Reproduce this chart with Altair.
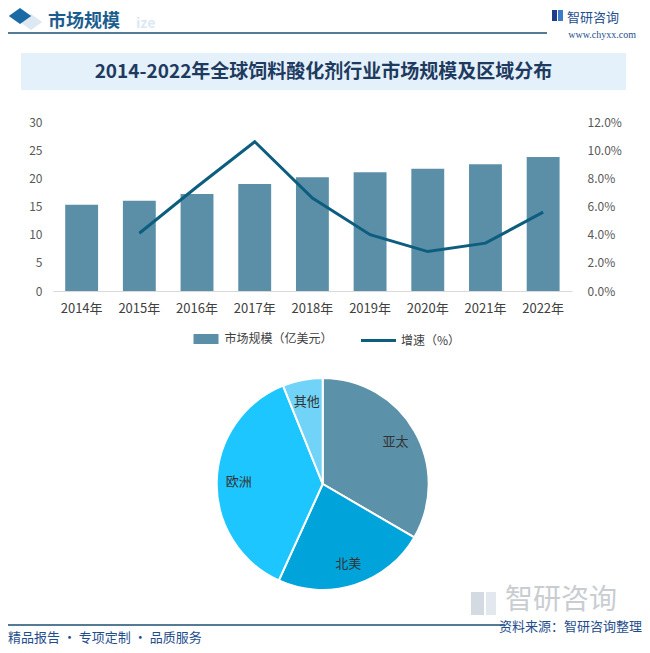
import altair as alt
import pandas as pd

# ---------------- data ----------------
years = ["2014年", "2015年", "2016年", "2017年", "2018年", "2019年", "2020年", "2021年", "2022年"]
market_size = [15.3, 16.0, 17.2, 19.0, 20.2, 21.1, 21.7, 22.5, 23.8]
growth_years = ["2015年", "2016年", "2017年", "2018年", "2019年", "2020年", "2021年", "2022年"]
growth_pct = [4.1, 7.4, 10.6, 6.6, 4.0, 2.8, 3.4, 5.6]
regions = ["亚太", "北美", "欧洲", "其他"]
region_share = [33.4, 23.4, 37.1, 6.1]
left_ticks = [0, 5, 10, 15, 20, 25, 30]
right_ticks = [0.0, 0.02, 0.04, 0.06, 0.08, 0.10, 0.12]
bar_series = "市场规模（亿美元）"
line_series = "增速（%）"

# ---------------- style ----------------
FONT = "Noto Sans CJK SC"
BAR = "#5B8FA8"
LINE = "#0D5E7E"
PIE = ["#5B91A9", "#00A4DA", "#1EC6FF", "#70D3F7"]
NAVY = "#1F4E8C"
W, H = 634, 637
OX, OY = 8, 8


def px(x):
    return x - OX


def py(y):
    return y - OY


one = pd.DataFrame({"k": [0]})


def txt(s, x, y, size, color, weight="normal", align="left", font=FONT):
    return alt.Chart(one).mark_text(
        text=s, fontSize=size, color=color, fontWeight=weight, align=align,
        baseline="middle", font=font
    ).encode(x=alt.value(px(x)), y=alt.value(py(y)))


def rect(x1, y1, x2, y2, color):
    return alt.Chart(one).mark_rect(color=color).encode(
        x=alt.value(px(x1)), x2=alt.value(px(x2)), y=alt.value(py(y1)), y2=alt.value(py(y2))
    )


def rule(x1, x2, y, color, w=1.5):
    return alt.Chart(one).mark_rule(color=color, strokeWidth=w).encode(
        x=alt.value(px(x1)), x2=alt.value(px(x2)), y=alt.value(py(y))
    )


# ---------------- decorations ----------------
deco = [
    alt.Chart(one).mark_point(shape="M-1.4,0L0,-1L1.4,0L0,1Z", size=256, filled=True,
                              color="#DCE9F3", opacity=1).encode(
        x=alt.value(px(31)), y=alt.value(py(22))),
    alt.Chart(one).mark_point(shape="M-1.4,0L0,-1L1.4,0L0,1Z", size=256, filled=True,
                              color="#1A6BA5", opacity=1).encode(
        x=alt.value(px(20)), y=alt.value(py(16))),
    txt("ize", 136, 24, 14, "#DCE9F3", weight="bold"),
    txt("市场规模", 48, 22, 18, "#1C5D8F", weight="bold"),
    rule(0, 547, 33, "#1B4F72"),
    rect(552, 10, 557, 21, "#1F3B8C"),
    rect(558, 10, 563, 21, "#3B7BC8"),
    txt("智研咨询", 567, 18, 13, NAVY),
    txt("www.chyxx.com", 636, 35, 10, NAVY, align="right", font="Liberation Serif"),
    rect(21, 53, 626, 90, "#E4F1FA"),
    txt("2014-2022年全球饲料酸化剂行业市场规模及区域分布", 323.5, 72, 19, "#1F3A5F", weight="bold", align="center"),
    rect(471, 592, 484, 615, "#D3DAE2"),
    rect(486, 592, 496, 615, "#E2E8EE"),
    txt("智研咨询", 505, 601, 28, "#C9CDD2"),
    rule(0, 505, 625, "#1B4F72"),
    txt("资料来源：智研咨询整理", 642, 627, 13, NAVY, align="right"),
    txt("精品报告 · 专项定制 · 品质服务", 8, 638, 13, NAVY),
]

# ---------------- bar + line ----------------
bar_df = pd.DataFrame({"年份": years, "市场规模": market_size, "系列": [bar_series] * len(years)})
line_df = pd.DataFrame({"年份": growth_years, "增速": [g / 100 for g in growth_pct],
                        "系列": [line_series] * len(growth_years)})

xscale = alt.Scale(domain=years, range=[px(52.8), px(572)], paddingInner=0.43, paddingOuter=0.215)
xenc = alt.X("年份:N", scale=xscale, sort=years,
             axis=alt.Axis(title=None, orient="bottom", offset=py(291) - H, labelAngle=0, ticks=False,
                           domainColor="#D9D9D9", domainWidth=1, labelPadding=11, labelFontSize=13,
                           labelColor="#404040", labelFont=FONT, grid=False))

bars = alt.Chart(bar_df).mark_bar().encode(
    x=xenc,
    y=alt.Y("市场规模:Q", scale=alt.Scale(domain=[0, 30], range=[py(291), py(122)], nice=False),
            axis=alt.Axis(title=None, orient="left", offset=-px(52), values=left_ticks, domain=False,
                          ticks=False, grid=False, labelPadding=10, labelFontSize=12,
                          labelColor="#595959", labelFont=FONT)),
    fill=alt.Fill("系列:N", scale=alt.Scale(domain=[bar_series], range=[BAR]),
                  legend=alt.Legend(orient="none", legendX=px(200), legendY=py(333), title=None,
                                    symbolType="M-2.5,-1H2.5V1H-2.5Z", symbolSize=100, labelOffset=12.5,
                                    labelFontSize=12, labelColor="#404040", labelFont=FONT, padding=0,
                                    symbolStrokeWidth=0, labelLimit=300)),
)

line = alt.Chart(line_df).mark_line(strokeWidth=3).encode(
    x=xenc,
    y=alt.Y("增速:Q", scale=alt.Scale(domain=[0, 0.12], range=[py(291), py(122)], nice=False),
            axis=alt.Axis(title=None, orient="right", offset=px(575) - W, values=right_ticks, format=".1%",
                          domain=False, ticks=False, grid=False, labelPadding=12, labelFontSize=12,
                          labelColor="#595959", labelFont=FONT)),
    stroke=alt.Stroke("系列:N", scale=alt.Scale(domain=[line_series], range=[LINE]),
                      legend=alt.Legend(orient="none", legendX=px(367), legendY=py(329), title=None,
                                        symbolType="M-1.75,0H1.75", symbolSize=400, symbolStrokeWidth=3,
                                        labelOffset=11, labelFontSize=12, labelColor="#404040",
                                        labelFont=FONT, padding=0, labelLimit=300)),
)

# ---------------- pie ----------------
pie_df = pd.DataFrame({"区域": regions, "占比": region_share, "序": [0, 1, 2, 3]})
CX, CY, R = 322.7, 484, 106
arc = alt.Chart(pie_df).mark_arc(radius=R, stroke="white", strokeWidth=2).encode(
    theta=alt.Theta("占比:Q", stack=True),
    order=alt.Order("序:Q"),
    color=alt.Color("区域:N", scale=alt.Scale(domain=regions, range=PIE), legend=None),
    x=alt.value(px(CX)), y=alt.value(py(CY)),
)
labels = alt.Chart(pie_df).mark_text(radius=84, fontSize=13, color="#333333", font=FONT).encode(
    theta=alt.Theta("占比:Q", stack=True),
    order=alt.Order("序:Q"),
    text="区域:N",
    x=alt.value(px(CX)), y=alt.value(py(CY)),
)

chart = alt.layer(*deco, bars, line, arc, labels).resolve_scale(
    y="independent"
).properties(
    width=W, height=H, autosize=alt.AutoSizeParams(type="none"), padding=0, background="white"
).configure_view(stroke=None)

chart.save("out.html", embed_options={"renderer": "svg", "actions": False})
